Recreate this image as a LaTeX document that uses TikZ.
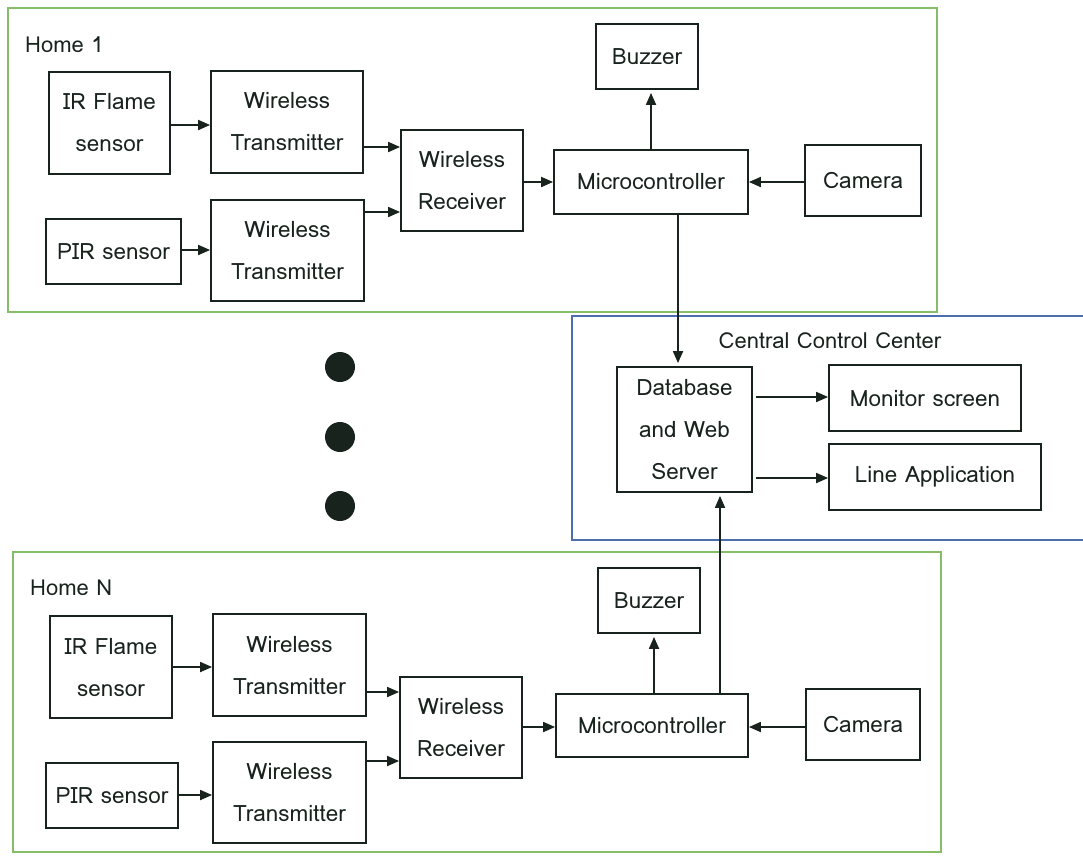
\documentclass[tikz,border=0pt]{standalone}
\usepackage{fontspec}
\setmainfont{Loma}
\usetikzlibrary{arrows.meta}
\definecolor{homegreen}{RGB}{135,188,105}
\definecolor{cccblue}{RGB}{75,110,175}
\definecolor{ink}{RGB}{25,35,30}
\tikzset{
  box/.style={draw=ink, line width=1.8pt, inner sep=0pt, align=center,
    font=\fontsize{22.5}{42}\selectfont, text=ink},
  arr/.style={draw=ink, line width=1.8pt, -{Triangle[length=12pt,width=10pt]}},
  homeframe/.style={draw=homegreen, line width=1.6pt},
  cccframe/.style={draw=cccblue, line width=1.6pt},
  lbl/.style={font=\fontsize{22}{26}\selectfont, text=ink, inner sep=0pt},
  dot/.style={circle, fill=ink, minimum size=30pt, inner sep=0pt}
}
\begin{document}
\begin{tikzpicture}[x=1pt,y=-1pt]
\useasboundingbox (0,0) rectangle (1083,855);
% frames
\draw[homeframe] (8,8) rectangle (937,312);
\draw[homeframe] (13,552) rectangle (941,852);
\draw[cccframe] (1083,316) -- (572,316) -- (572,540) -- (1083,540);
\node[lbl, anchor=west] (h1) at (25,45) {Home 1};
\node[lbl, anchor=west] (hN) at (30,588) {Home N};
\node[lbl] (cccl) at (830,341) {Central Control Center};
% Home 1
\node[box, minimum width=121, minimum height=102] (ir1) at (109.5,123) {IR Flame\\sensor};
\node[box, minimum width=152, minimum height=102] (wt1a) at (287,122) {Wireless\\Transmitter};
\node[box, minimum width=122, minimum height=101] (wr1) at (462,180.5) {Wireless\\Receiver};
\node[box, minimum width=194, minimum height=64] (mc1) at (651,182) {Microcontroller};
\node[box, minimum width=102, minimum height=65] (bz1) at (647,56.5) {Buzzer};
\node[box, minimum width=116, minimum height=71] (cam1) at (863,180.5) {Camera};
\node[box, minimum width=135, minimum height=65] (pir1) at (113.5,251.5) {PIR sensor};
\node[box, minimum width=153, minimum height=101] (wt1b) at (287.5,250.5) {Wireless\\Transmitter};
% Home N
\node[box, minimum width=122, minimum height=102] (irN) at (111,667) {IR Flame\\sensor};
\node[box, minimum width=153, minimum height=102] (wtNa) at (289.5,665) {Wireless\\Transmitter};
\node[box, minimum width=122, minimum height=101] (wrN) at (461,727.5) {Wireless\\Receiver};
\node[box, minimum width=192, minimum height=63] (mcN) at (652,725.5) {Microcontroller};
\node[box, minimum width=102, minimum height=65] (bzN) at (649,600.5) {Buzzer};
\node[box, minimum width=114, minimum height=71] (camN) at (863,724.5) {Camera};
\node[box, minimum width=132, minimum height=65] (pirN) at (112,795.5) {PIR sensor};
\node[box, minimum width=153, minimum height=101] (wtNb) at (289.5,792.5) {Wireless\\Transmitter};
% Central
\node[box, minimum width=135, minimum height=125] (db) at (684.5,429.5) {Database\\and Web\\Server};
\node[box, minimum width=192, minimum height=66] (mon) at (925,398) {Monitor screen};
\node[box, minimum width=212, minimum height=66] (line) at (935,477) {Line Application};
% dots
\node[dot] (d1) at (340,367) {};
\node[dot] (d2) at (340,437) {};
\node[dot] (d3) at (340,506) {};
% helper coordinates
\coordinate (y1a) at (0,125);
\coordinate (y1b) at (0,147);
\coordinate (y1c) at (0,250);
\coordinate (y1d) at (0,212);
\coordinate (y1e) at (0,182);
\coordinate (yNa) at (0,667);
\coordinate (yNb) at (0,692);
\coordinate (yNc) at (0,795);
\coordinate (yNd) at (0,761);
\coordinate (yNe) at (0,727);
\coordinate (xb1) at (651,0);
\coordinate (xbN) at (654,0);
\coordinate (xd1) at (678,0);
\coordinate (xdN) at (720,0);
\coordinate (ym) at (0,397);
\coordinate (yl) at (0,478);
% Home 1 arrows
\draw[arr] (ir1.east |- y1a) -- (wt1a.west |- y1a);
\draw[arr] (wt1a.east |- y1b) -- (wr1.west |- y1b);
\draw[arr] (pir1.east |- y1c) -- (wt1b.west |- y1c);
\draw[arr] (wt1b.east |- y1d) -- (wr1.west |- y1d);
\draw[arr] (wr1.east |- y1e) -- (mc1.west |- y1e);
\draw[arr] (cam1.west |- y1e) -- (mc1.east |- y1e);
\draw[arr, shorten >=3pt] (mc1.north -| xb1) -- (bz1.south -| xb1);
\draw[arr, shorten >=3pt] (mc1.south -| xd1) -- (db.north -| xd1);
% Home N arrows
\draw[arr] (irN.east |- yNa) -- (wtNa.west |- yNa);
\draw[arr] (wtNa.east |- yNb) -- (wrN.west |- yNb);
\draw[arr] (pirN.east |- yNc) -- (wtNb.west |- yNc);
\draw[arr] (wtNb.east |- yNd) -- (wrN.west |- yNd);
\draw[arr] (wrN.east |- yNe) -- (mcN.west |- yNe);
\draw[arr] (camN.west |- yNe) -- (mcN.east |- yNe);
\draw[arr, shorten >=3pt] (mcN.north -| xbN) -- (bzN.south -| xbN);
\draw[arr, shorten >=3pt] (mcN.north -| xdN) -- (db.south -| xdN);
% Central arrows
\draw[arr, shorten <=3pt] (db.east |- ym) -- (mon.west |- ym);
\draw[arr, shorten <=3pt] (db.east |- yl) -- (line.west |- yl);
\end{tikzpicture}
\end{document}
